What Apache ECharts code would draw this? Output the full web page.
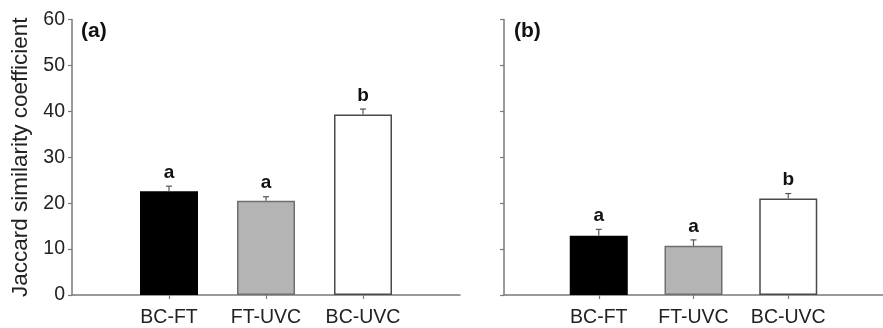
<!DOCTYPE html>
<html>
<head>
<meta charset="utf-8">
<script src="https://cdn.jsdelivr.net/npm/echarts@6/dist/echarts.min.js"></script>
<style>html,body{margin:0;padding:0;background:#fff}#c{width:883px;height:328px}</style>
</head>
<body>
<div id="c"></div>
<script>
const categories = ['BC-FT', 'FT-UVC', 'BC-UVC'];
const meansA = [22.6, 20.5, 39.3];
const errA = [1.1, 0.9, 1.2];
const lettersA = ['a', 'a', 'b'];
const meansB = [12.9, 10.7, 21.0];
const errB = [1.4, 1.3, 1.1];
const lettersB = ['a', 'a', 'b'];
const yTicks = [0, 10, 20, 30, 40, 50, 60];
const panelLabels = ['(a)', '(b)'];

const fills = ['#000000', '#b4b4b4', '#ffffff'];
const borders = ['#000000', '#6e6e6e', '#4a4a4a'];
const FONT = 'Liberation Sans, Arial, sans-serif';
const axisColor = '#7a7a7a';

const xData = [''].concat(categories, ['']);

function barData(means) {
  return ['-'].concat(means.map((v, i) => ({
    value: v,
    itemStyle: { color: fills[i], borderColor: borders[i], borderWidth: 1.5 }
  })), ['-']);
}
function errData(means, errs, letters) {
  return means.map((v, i) => [i + 1, v, v + errs[i], letters[i]]);
}
function renderErr(params, api) {
  const x = api.value(0);
  const lo = api.coord([x, api.value(1)]);
  const hi = api.coord([x, api.value(2)]);
  const cap = 3;
  return {
    type: 'group',
    children: [
      { type: 'line', shape: { x1: lo[0], y1: lo[1], x2: hi[0], y2: hi[1] }, style: { stroke: '#555', lineWidth: 1.2 } },
      { type: 'line', shape: { x1: hi[0] - cap, y1: hi[1], x2: hi[0] + cap, y2: hi[1] }, style: { stroke: '#555', lineWidth: 1.2 } },
      { type: 'text', x: hi[0], y: hi[1] - 4, style: { text: api.value(3), fontFamily: FONT, fontWeight: 'bold', fontSize: 19, fill: '#111', align: 'center', verticalAlign: 'bottom' } }
    ]
  };
}

function xAxis(gi) {
  return {
    type: 'category', gridIndex: gi, data: xData, boundaryGap: false,
    axisLine: { lineStyle: { color: axisColor, width: 1.5 } },
    axisTick: { show: true, length: 4, lineStyle: { color: axisColor, width: 1.2 },
      interval: (i) => i > 0 && i < xData.length - 1 },
    axisLabel: { color: '#222', fontFamily: FONT, fontSize: 19.5, margin: 13,
      interval: (i) => i > 0 && i < xData.length - 1 },
    splitLine: { show: false }
  };
}
function yAxis(gi, showLabels) {
  return {
    type: 'value', gridIndex: gi, min: yTicks[0], max: yTicks[yTicks.length - 1], interval: 10,
    axisLine: { show: true, lineStyle: { color: axisColor, width: 1.5 } },
    axisTick: { show: true, length: 4, lineStyle: { color: axisColor, width: 1.2 } },
    axisLabel: { show: showLabels, color: '#222', fontFamily: FONT, fontSize: 19.5, margin: 7 },
    splitLine: { show: false },
    name: showLabels ? 'Jaccard similarity coefficient' : '',
    nameLocation: 'middle', nameGap: 40, nameRotate: 90,
    nameTextStyle: { color: '#222', fontFamily: FONT, fontSize: 22.5 }
  };
}

const chart = echarts.init(document.getElementById('c'), null, { renderer: 'canvas' });
chart.setOption({
  animation: false,
  backgroundColor: '#ffffff',
  grid: [
    { left: 72, top: 19.5, width: 388, height: 276.5 },
    { left: 504, top: 19.5, width: 388, height: 276.5 }
  ],
  xAxis: [xAxis(0), xAxis(1)],
  yAxis: [yAxis(0, true), yAxis(1, false)],
  graphic: [
    { type: 'text', left: 81, top: 21, style: { text: panelLabels[0], fontFamily: FONT, fontWeight: 'bold', fontSize: 21, fill: '#111' } },
    { type: 'text', left: 514, top: 21, style: { text: panelLabels[1], fontFamily: FONT, fontWeight: 'bold', fontSize: 21, fill: '#111' } }
  ],
  series: [
    { type: 'bar', xAxisIndex: 0, yAxisIndex: 0, data: barData(meansA), barWidth: 58 },
    { type: 'custom', xAxisIndex: 0, yAxisIndex: 0, data: errData(meansA, errA, lettersA), renderItem: renderErr, z: 5 },
    { type: 'bar', xAxisIndex: 1, yAxisIndex: 1, data: barData(meansB), barWidth: 58 },
    { type: 'custom', xAxisIndex: 1, yAxisIndex: 1, data: errData(meansB, errB, lettersB), renderItem: renderErr, z: 5 }
  ]
});
</script>
</body>
</html>
